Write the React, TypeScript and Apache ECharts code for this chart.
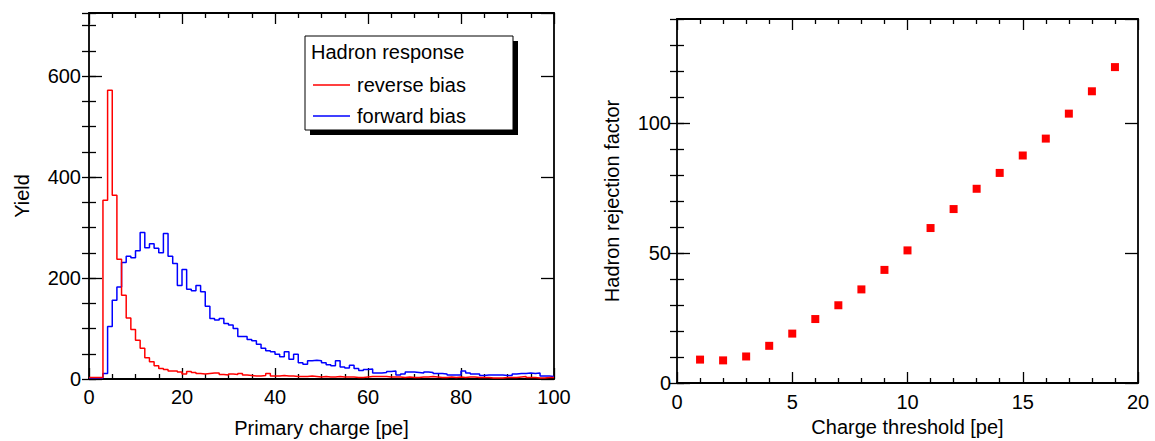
import React, { useEffect, useRef } from "react";
import * as echarts from "echarts";

// Histogram bin contents, bins of width 1 pe from 0 to 100
const reverseBias: number[] = [
  3, 3, 3, 354, 572, 364, 237, 166, 121, 98,
  77, 61, 42, 34, 26, 21, 19, 16, 16, 14,
  10, 15, 13, 11, 10, 11, 12, 12, 9, 8,
  10, 9, 11, 8, 7, 6, 6, 7, 11, 6,
  6, 7, 6, 6, 5, 5, 5, 6, 5, 4,
  5, 4, 4, 5, 4, 4, 4, 3, 3, 4,
  5, 5, 5, 5, 4, 4, 4, 3, 4, 3,
  3, 4, 4, 5, 4, 3, 3, 4, 3, 4,
  3, 4, 4, 3, 3, 3, 2, 2, 2, 3,
  3, 3, 4, 5, 3, 3, 2, 2, 3, 3,
];
const forwardBias: number[] = [
  2, 2, 2, 11, 104, 156, 182, 231, 243, 240,
  254, 290, 260, 268, 259, 250, 288, 243, 229, 185,
  217, 178, 175, 185, 173, 144, 120, 117, 120, 110,
  107, 100, 84, 84, 78, 76, 69, 61, 56, 54,
  49, 44, 54, 39, 49, 32, 29, 36, 37, 36,
  32, 28, 26, 36, 24, 22, 27, 21, 17, 19,
  20, 12, 12, 13, 15, 16, 8, 10, 14, 14,
  13, 12, 14, 13, 11, 11, 10, 8, 8, 8,
  16, 12, 10, 10, 7, 8, 8, 8, 8, 7,
  7, 10, 11, 11, 12, 11, 12, 6, 6, 5,
];

// Right panel
const thresholds: number[] = [1, 2, 3, 4, 5, 6, 7, 8, 9, 10, 11, 12, 13, 14, 15, 16, 17, 18, 19];
const rejection: number[] = [9.0, 8.7, 10.2, 14.3, 19.0, 24.6, 29.9, 36.0, 43.5, 51.0, 59.6, 66.9, 74.7, 80.8, 87.5, 94.0, 103.6, 112.2, 121.5];

const seriesNames = ["reverse bias", "forward bias"];
const legendTitle = "Hadron response";

const FONT = "Liberation Sans, Arial, Helvetica, sans-serif";
const FS = 20;

function toSteps(counts: number[]): number[][] {
  const pts = counts.map((v, i) => [i, v]);
  pts.push([counts.length, counts[counts.length - 1]]);
  return pts;
}

export default function App() {
  const ref = useRef<HTMLDivElement>(null);
  useEffect(() => {
    if (!ref.current) return;
    const chart = echarts.init(ref.current, undefined, { renderer: "svg" });
    const lineW = 1.8;
    const axLine = { show: true, onZero: false, lineStyle: { color: "#000", width: lineW } };
    const label = { color: "#000", fontFamily: FONT, fontSize: FS };

    const xBase = (grid: number, max: number, interval: number, split: number, pos: string, showLbl: boolean, margin: number, extra: any = {}) => ({
      type: "value",
      gridIndex: grid,
      position: pos,
      min: 0,
      max,
      interval,
      axisLine: axLine,
      axisTick: { show: true, inside: true, length: 11, lineStyle: { color: "#000", width: 1.3 } },
      minorTick: { show: true, splitNumber: split, length: 5, lineStyle: { color: "#000", width: 1.3 } },
      splitLine: { show: false },
      minorSplitLine: { show: false },
      axisLabel: { show: showLbl, margin, ...label },
      ...extra,
    });

    const yBase = (grid: number, max: number, interval: number, pos: string, major: boolean, showLbl: boolean, margin: number, extra: any = {}) => ({
      type: "value",
      gridIndex: grid,
      position: pos,
      min: 0,
      max,
      interval,
      axisLine: major ? axLine : { show: false },
      axisTick: { show: true, inside: true, length: major ? 13 : 7, lineStyle: { color: "#000", width: 1.3 } },
      splitLine: { show: false },
      axisLabel: { show: showLbl, margin, showMaxLabel: false, ...label },
      ...extra,
    });

    const option: any = {
      animation: false,
      backgroundColor: "#fff",
      textStyle: { fontFamily: FONT },
      grid: [
        { left: 89, top: 13, width: 465, height: 366, outerBoundsMode: "none" },
        { left: 677, top: 19, width: 461, height: 364, outerBoundsMode: "none" },
      ],
      xAxis: [
        xBase(0, 100, 20, 4, "bottom", true, 8, {
          name: "Primary charge [pe]",
          nameLocation: "middle",
          nameGap: 39,
          nameTextStyle: { ...label },
        }),
        xBase(0, 100, 20, 4, "top", false, 8),
        xBase(1, 20, 5, 5, "bottom", true, 9, {
          name: "Charge threshold [pe]",
          nameLocation: "middle",
          nameGap: 28,
          nameTextStyle: { ...label },
        }),
        xBase(1, 20, 5, 5, "top", false, 8),
      ],
      yAxis: [
        yBase(0, 725, 200, "left", true, true, 8, {
          name: "Yield",
          nameLocation: "middle",
          nameGap: 57,
          nameTextStyle: { ...label },
        }),
        yBase(0, 725, 50, "left", false, false, 8),
        yBase(0, 725, 200, "right", true, false, 8),
        yBase(0, 725, 50, "right", false, false, 8),
        yBase(1, 140, 50, "left", true, true, 6, {
          name: "Hadron rejection factor",
          nameLocation: "middle",
          nameGap: 55,
          nameTextStyle: { ...label },
        }),
        yBase(1, 140, 10, "left", false, false, 6),
        yBase(1, 140, 50, "right", true, false, 6),
        yBase(1, 140, 10, "right", false, false, 6),
      ],
      legend: {
        data: seriesNames,
        orient: "vertical",
        left: 313,
        top: 75,
        z: 10,
        icon: "rect",
        itemWidth: 37,
        itemHeight: 1.6,
        itemGap: 11,
        padding: 0,
        textStyle: { color: "#000", fontFamily: FONT, fontSize: FS, lineHeight: 20, padding: [0, 0, 0, 2] },
        selectedMode: false,
      },
      graphic: [
        { type: "rect", z: 5, shape: { x: 310, y: 41, width: 208, height: 94 }, style: { fill: "#000" } },
        { type: "rect", z: 6, shape: { x: 305, y: 36, width: 208, height: 94 }, style: { fill: "#fff", stroke: "#000", lineWidth: 1 } },
        {
          type: "text",
          z: 7,
          x: 311,
          y: 52,
          style: { text: legendTitle, fill: "#000", font: `${FS}px ${FONT}`, verticalAlign: "middle", align: "left" },
        },
      ],
      series: [
        {
          name: seriesNames[1],
          type: "line",
          xAxisIndex: 0,
          yAxisIndex: 0,
          step: "end",
          symbol: "none",
          showSymbol: false,
          data: toSteps(forwardBias),
          lineStyle: { color: "#0000ff", width: 1.5 },
          itemStyle: { color: "#0000ff" },
          z: 2,
        },
        {
          name: seriesNames[0],
          type: "line",
          xAxisIndex: 0,
          yAxisIndex: 0,
          step: "end",
          symbol: "none",
          showSymbol: false,
          data: toSteps(reverseBias),
          lineStyle: { color: "#ff0000", width: 1.5 },
          itemStyle: { color: "#ff0000" },
          z: 3,
        },
        {
          name: "rejection",
          type: "scatter",
          xAxisIndex: 2,
          yAxisIndex: 4,
          symbol: "rect",
          symbolSize: 8,
          itemStyle: { color: "#ff0000", opacity: 1 },
          data: thresholds.map((t, i) => [t, rejection[i]]),
        },
      ],
    };
    chart.setOption(option);
    return () => chart.dispose();
  }, []);
  return (
    <div
      ref={ref}
      style={{ position: "absolute", left: 0, top: 0, width: 1155, height: 441, background: "#fff" }}
    />
  );
}
